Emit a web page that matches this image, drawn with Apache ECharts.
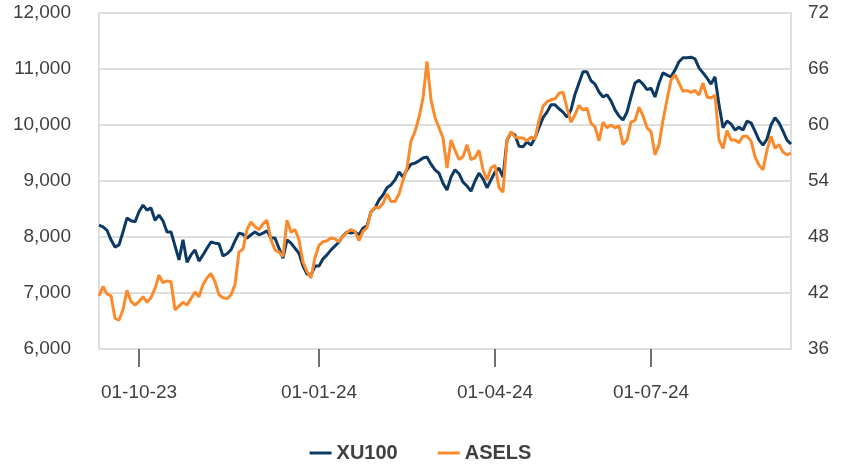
<!DOCTYPE html>
<html>
<head>
<meta charset="utf-8">
<script src="https://cdn.jsdelivr.net/npm/echarts@6/dist/echarts.min.js"></script>
<style>
  html, body { margin: 0; padding: 0; background: #fff; }
  #main { width: 841px; height: 469px; }
</style>
</head>
<body>
<div id="main"></div>
<script>
// trading-day positions where the x ticks sit, and their labels
var tickIdx = [10, 55, 99, 138];
var tickLabels = ['01-10-23', '01-01-24', '01-04-24', '01-07-24'];

var xu100 = [
  8210, 8180, 8120, 7950, 7820, 7860, 8090, 8340, 8290, 8270,
  8450, 8570, 8480, 8520, 8300, 8390, 8290, 8090, 8090, 7840,
  7590, 7950, 7550, 7680, 7770, 7570, 7680, 7800, 7910, 7890,
  7880, 7660, 7700, 7770, 7930, 8070, 8050, 7980, 8040, 8090,
  8040, 8070, 8110, 7980, 7980, 7800, 7620, 7950, 7890, 7800,
  7710, 7480, 7340, 7320, 7480, 7480, 7610, 7680, 7770, 7840,
  7910, 8020, 8090, 8070, 8090, 8040, 8160, 8200, 8450, 8520,
  8660, 8750, 8880, 8930, 9020, 9160, 9070, 9200, 9300, 9320,
  9360, 9410, 9430, 9300, 9200, 9140, 8960, 8840, 9070, 9200,
  9130, 8980, 8910, 8820, 9000, 9140, 9040, 8880, 9020, 9160,
  9230, 9070, 9730, 9860, 9820, 9620, 9610, 9700, 9640, 9770,
  9950, 10130, 10230, 10360, 10360, 10290, 10230, 10140, 10270, 10550,
  10750, 10950, 10950, 10790, 10730, 10590, 10500, 10540, 10430, 10270,
  10160, 10090, 10230, 10500, 10750, 10800, 10730, 10630, 10660, 10500,
  10750, 10930, 10890, 10860, 10980, 11130, 11200, 11200, 11210, 11180,
  11020, 10930, 10840, 10730, 10860, 10360, 9950, 10070, 10020, 9910,
  9960, 9910, 10070, 10040, 9890, 9730, 9640, 9750, 10000, 10130,
  10040, 9890, 9730, 9660
];

var asels = [
  41.7, 42.7, 41.9, 41.7, 39.3, 39.1, 40.2, 42.3, 41.1, 40.7,
  41.1, 41.6, 41.0, 41.5, 42.5, 43.9, 43.1, 43.3, 43.2, 40.2,
  40.6, 41.0, 40.7, 41.4, 42.1, 41.6, 42.9, 43.6, 44.1, 43.2,
  41.8, 41.5, 41.4, 41.8, 42.9, 46.4, 46.7, 48.8, 49.6, 49.1,
  48.8, 49.4, 49.8, 47.7, 46.6, 46.4, 45.9, 49.8, 48.5, 48.8,
  47.7, 45.3, 44.3, 43.6, 45.8, 47.1, 47.5, 47.6, 47.9, 47.8,
  47.5, 48.1, 48.5, 48.8, 48.6, 47.6, 48.6, 49.0, 50.7, 51.2,
  51.1, 51.6, 52.6, 51.8, 51.8, 52.6, 54.1, 55.4, 58.3, 59.3,
  60.8, 62.9, 66.8, 62.7, 60.8, 59.7, 58.6, 55.4, 58.4, 57.3,
  56.3, 56.6, 57.9, 56.3, 56.5, 57.3, 55.2, 54.1, 55.4, 55.7,
  53.3, 52.8, 58.4, 59.3, 58.7, 58.6, 58.6, 58.3, 58.7, 58.5,
  60.5, 62.0, 62.5, 62.7, 62.8, 63.4, 63.5, 61.8, 60.3, 61.1,
  62.1, 61.6, 61.8, 60.2, 59.8, 58.3, 60.3, 59.7, 60.0, 59.7,
  59.9, 57.9, 58.4, 60.3, 60.5, 61.9, 61.0, 59.7, 59.3, 56.8,
  57.9, 60.5, 62.7, 64.8, 65.4, 64.5, 63.6, 63.7, 63.5, 63.7,
  63.2, 64.5, 63.0, 62.9, 63.2, 58.4, 57.5, 59.4, 58.4, 58.4,
  58.1, 58.8, 58.8, 58.3, 56.6, 55.7, 55.2, 57.3, 58.8, 57.5,
  57.9, 57.1, 56.8, 57.0
];

var categories = xu100.map(function (v, i) {
  var k = tickIdx.indexOf(i);
  return k >= 0 ? tickLabels[k] : '';
});
var isTick = function (i) { return tickIdx.indexOf(i) >= 0; };

var font = '"Liberation Sans", Arial, sans-serif';
var gridGray = '#dedede';

var option = {
  animation: false,
  textStyle: { fontFamily: font },
  grid: { left: 99, right: 50, top: 13, bottom: 120 },
  legend: {
    bottom: 1,
    left: 'center',
    icon: 'rect',
    itemWidth: 22,
    itemHeight: 3,
    itemGap: 40,
    textStyle: { fontSize: 20, fontWeight: 'bold', color: '#404040', fontFamily: font },
    data: ['XU100', 'ASELS']
  },
  xAxis: {
    type: 'category',
    data: categories,
    boundaryGap: false,
    axisLine: { show: true, lineStyle: { color: gridGray, width: 2 } },
    axisTick: { show: true, interval: isTick, length: 18, lineStyle: { color: '#404040', width: 1.5 } },
    axisLabel: { interval: isTick, margin: 34, fontSize: 19, color: '#404040' },
    splitLine: { show: false }
  },
  yAxis: [
    {
      type: 'value',
      min: 6000, max: 12000, interval: 1000,
      axisLine: { show: true, lineStyle: { color: gridGray, width: 2 } },
      axisTick: { show: false },
      axisLabel: {
        margin: 28, fontSize: 19, color: '#404040',
        formatter: function (v) { return v.toLocaleString('en-US'); }
      },
      splitLine: { show: true, lineStyle: { color: gridGray, width: 2 } }
    },
    {
      type: 'value',
      min: 36, max: 72, interval: 6,
      axisLine: { show: true, lineStyle: { color: gridGray, width: 2 } },
      axisTick: { show: false },
      axisLabel: { margin: 17, fontSize: 19, color: '#404040' },
      splitLine: { show: false }
    }
  ],
  series: [
    {
      name: 'XU100', type: 'line', yAxisIndex: 0,
      data: xu100, showSymbol: false,
      lineStyle: { width: 3, color: '#0c3a64' },
      itemStyle: { color: '#0c3a64' }
    },
    {
      name: 'ASELS', type: 'line', yAxisIndex: 1,
      data: asels, showSymbol: false,
      lineStyle: { width: 3, color: '#fb8a2d' },
      itemStyle: { color: '#fb8a2d' }
    }
  ]
};

var chartDom = document.getElementById('main');
var myChart = echarts.init(chartDom);
option && myChart.setOption(option);
</script>
</body>
</html>
